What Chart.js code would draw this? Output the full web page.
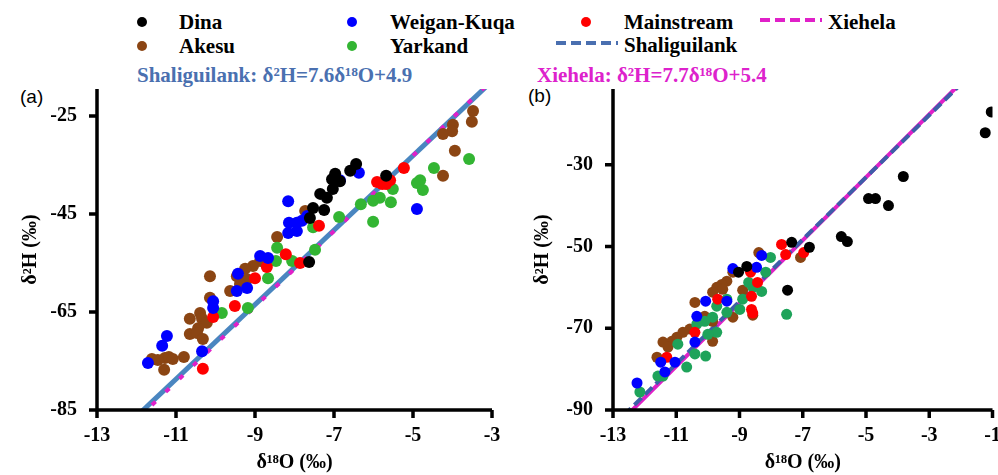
<!DOCTYPE html>
<html>
<head>
<meta charset="utf-8">
<script src="https://cdn.jsdelivr.net/npm/chart.js@4.4.0/dist/chart.umd.min.js"></script>
<style>
  body { margin: 0; background: #fff; width: 998px; height: 475px; overflow: hidden; position: relative;
         font-family: "Liberation Serif", "Times New Roman", serif; }
  .t { position: absolute; white-space: nowrap; font-weight: bold; font-size: 21px; line-height: 24px; color: #000; }
  .dot { position: absolute; width: 10px; height: 10px; border-radius: 50%; }
  .pl { position: absolute; font-family: "Liberation Sans", Arial, sans-serif; font-size: 19px; line-height: 22px; }
  canvas { position: absolute; top: 0; }
</style>
</head>
<body>
<!-- legend -->
<div class="dot" style="left:137px;top:17px;background:#000"></div>
<div class="t" style="left:179px;top:10px">Dina</div>
<div class="dot" style="left:347px;top:17px;background:#0000ff"></div>
<div class="t" style="left:390px;top:10px">Weigan-Kuqa</div>
<div class="dot" style="left:581px;top:17px;background:#ff0000"></div>
<div class="t" style="left:624px;top:10px">Mainstream</div>
<svg style="position:absolute;left:758px;top:15px" width="66" height="10"><line x1="2" y1="5" x2="64" y2="5" stroke="#e020c8" stroke-width="4" stroke-dasharray="10,5"/></svg>
<div class="t" style="left:828px;top:10px">Xiehela</div>
<div class="dot" style="left:137px;top:41px;background:#8b4513"></div>
<div class="t" style="left:179px;top:34px">Akesu</div>
<div class="dot" style="left:347px;top:41px;background:#33b533"></div>
<div class="t" style="left:390px;top:34px">Yarkand</div>
<svg style="position:absolute;left:554px;top:38px" width="66" height="10"><line x1="2" y1="5" x2="64" y2="5" stroke="#4a6fb0" stroke-width="4" stroke-dasharray="10,5"/></svg>
<div class="t" style="left:624px;top:33px">Shaliguilank</div>
<div class="t" style="left:137px;top:63px;color:#4a70b0">Shaliguilank: δ²H=7.6δ¹⁸O+4.9</div>
<div class="t" style="left:537px;top:63px;color:#dd22cc">Xiehela: δ²H=7.7δ¹⁸O+5.4</div>
<div class="pl" style="left:20px;top:86px">(a)</div>
<div class="pl" style="left:528px;top:85px">(b)</div>

<canvas id="chartA" width="510" height="475" style="left:0"></canvas>
<canvas id="chartB" width="488" height="475" style="left:510px"></canvas>

<script>
// panel (a) samples, [δ18O, δ2H]
const dinaA = [[-6.44,-34.8],[-6.59,-36.2],[-6.97,-36.8],[-7.05,-37.9],[-6.85,-38.3],[-7.03,-39.9],
  [-7.18,-41.7],[-7.35,-40.9],[-7.53,-43.8],[-7.25,-44.2],[-7.61,-45.8],[-5.68,-37.2],[-7.63,-54.8]];
const weiganA = [[-6.37,-36.6],[-6.85,-38.1],[-8.16,-42.4],[-8.14,-46.8],[-7.94,-46.8],[-7.81,-46.4],
  [-7.68,-45.4],[-8.16,-48.9],[-7.94,-48.5],[-4.90,-44.0],[-8.87,-53.6],[-8.67,-54.0],[-9.43,-57.2],
  [-9.20,-60.1],[-9.46,-60.7],[-10.06,-62.8],[-10.06,-64.2],[-11.23,-69.9],[-11.35,-71.9],[-10.34,-73.0],[-11.71,-75.4]];
const mainA = [[-5.23,-35.6],[-5.91,-38.5],[-5.78,-38.9],[-5.68,-38.9],[-5.58,-38.1],[-7.38,-47.4],
  [-8.22,-53.2],[-7.86,-55.0],[-8.70,-55.8],[-9.00,-58.1],[-9.51,-63.8],[-10.06,-66.0],[-10.32,-76.6]];
const yarkandA = [[-3.58,-33.8],[-4.47,-35.6],[-4.82,-38.1],[-4.90,-38.7],[-4.75,-40.1],[-5.51,-39.9],
  [-5.56,-42.6],[-5.84,-41.7],[-6.01,-42.3],[-6.32,-43.0],[-6.01,-46.6],[-6.87,-45.6],[-7.53,-47.7],
  [-7.48,-52.3],[-8.06,-54.6],[-8.44,-51.9],[-8.47,-54.6],[-8.67,-58.1],[-9.18,-64.2],[-9.84,-65.2]];
const akesuA = [[-3.48,-24.0],[-3.51,-26.2],[-3.99,-26.8],[-4.01,-28.1],[-4.24,-28.7],[-3.94,-32.1],
  [-4.24,-37.2],[-7.73,-44.4],[-8.44,-49.7],[-8.87,-54.6],[-9.05,-55.6],[-9.25,-56.2],[-9.46,-57.7],
  [-10.14,-57.7],[-9.20,-58.3],[-9.38,-59.3],[-9.63,-60.7],[-10.14,-62.1],[-10.39,-65.2],[-10.65,-66.4],
  [-10.34,-66.4],[-10.22,-67.2],[-10.44,-68.3],[-10.65,-69.5],[-10.47,-69.3],[-10.32,-70.5],[-11.61,-74.6],
  [-11.46,-74.8],[-11.28,-74.4],[-11.18,-74.2],[-11.08,-74.6],[-10.80,-74.2],[-11.30,-76.8]];

// panel (b) samples
const dinaB = [[-1.04,-17.1],[-1.23,-22.2],[-3.82,-32.9],[-4.92,-38.3],[-4.70,-38.3],[-4.29,-40.0],
  [-5.78,-47.6],[-5.59,-48.8],[-7.35,-49.0],[-6.79,-50.2],[-8.77,-54.9],[-9.03,-56.3],[-7.48,-60.7]];
const weiganB = [[-8.30,-52.2],[-9.21,-55.4],[-8.46,-55.1],[-10.07,-63.4],[-9.40,-63.4],[-10.35,-67.1],
  [-10.41,-73.4],[-11.49,-78.3],[-11.04,-78.3],[-11.36,-80.7],[-12.24,-83.4]];
const mainB = [[-7.67,-49.5],[-7.54,-52.0],[-6.97,-51.5],[-8.65,-56.3],[-8.43,-58.8],[-9.69,-62.9],
  [-8.62,-62.2],[-8.62,-65.4],[-8.58,-66.3],[-10.41,-71.0],[-11.30,-77.1]];
const yarkandB = [[-8.02,-52.7],[-8.17,-56.3],[-8.71,-58.8],[-8.58,-60.0],[-8.30,-61.0],[-9.40,-62.9],
  [-8.90,-62.9],[-8.99,-65.4],[-9.72,-64.6],[-9.40,-66.1],[-9.85,-67.3],[-10.10,-68.3],[-10.35,-69.0],
  [-9.72,-71.0],[-10.00,-71.5],[-10.95,-73.9],[-10.41,-76.3],[-10.07,-76.8],[-10.67,-79.5],[-11.42,-81.7],
  [-11.58,-81.7],[-12.15,-85.6],[-7.51,-66.6]];
const akesuB = [[-8.39,-51.5],[-7.07,-52.7],[-9.21,-56.3],[-9.40,-58.5],[-9.56,-59.3],[-9.72,-60.0],
  [-9.53,-60.5],[-9.85,-61.2],[-8.90,-60.7],[-10.41,-63.7],[-10.10,-67.1],[-9.21,-67.3],[-9.85,-68.3],
  [-10.57,-70.2],[-10.79,-71.0],[-10.98,-72.2],[-11.14,-73.2],[-11.42,-73.4],[-11.26,-74.6],[-11.61,-77.1],
  [-9.85,-73.2],[-8.58,-66.8]];

// local meteoric water lines: slope, intercept
const shaliLine = [7.6, 4.9];
const xieLine = [7.7, 5.4];

const xTicksA = [-13, -11, -9, -7, -5, -3];
const yTicksA = [-85, -65, -45, -25];
const xTicksB = [-13, -11, -9, -7, -5, -3, -1];
const yTicksB = [-90, -70, -50, -30];

const serif = '"Liberation Serif", "Times New Roman", serif';
const pts = arr => arr.map(p => ({ x: p[0], y: p[1] }));
const eqLine = (c, x0, x1) => [{ x: x0, y: c[0] * x0 + c[1] }, { x: x1, y: c[0] * x1 + c[1] }];

// heavy black axis lines and outward ticks, like the original figure
const axisInk = {
  id: 'axisInk',
  afterDraw(chart) {
    const { ctx, chartArea: a, scales: { x, y } } = chart;
    ctx.save();
    ctx.strokeStyle = '#000';
    ctx.lineWidth = 3.5;
    ctx.beginPath();
    ctx.moveTo(a.left, a.top);
    ctx.lineTo(a.left, a.bottom);
    ctx.lineTo(a.right, a.bottom);
    x.ticks.forEach(t => {
      const px = x.getPixelForValue(t.value);
      ctx.moveTo(px, a.bottom);
      ctx.lineTo(px, a.bottom + 8);
    });
    y.ticks.forEach(t => {
      const py = y.getPixelForValue(t.value);
      ctx.moveTo(a.left, py);
      ctx.lineTo(a.left - 8, py);
    });
    ctx.stroke();
    ctx.restore();
  }
};

function scatterSet(data, color, r) {
  return { data: pts(data), backgroundColor: color, borderWidth: 0, pointRadius: r, pointHoverRadius: r };
}

function lineSet(c, x0, x1, color, width, dash) {
  return { data: eqLine(c, x0, x1), showLine: true, borderColor: color, borderWidth: width,
           borderDash: dash, pointRadius: 0, clip: 0, fill: false };
}

function makeScale(min, max, tickVals, title, size, titlePad, tickPad) {
  return {
    type: 'linear', min: min, max: max,
    afterBuildTicks: s => { s.ticks = tickVals.map(v => ({ value: v })); },
    afterFit: s => {
      if (s.isHorizontal()) s.height = size; else s.width = size;
      s.paddingLeft = 0; s.paddingRight = 0; s.paddingTop = 0; s.paddingBottom = 0;
    },
    border: { display: false },
    grid: { drawOnChartArea: false, color: '#fff', tickLength: 7 },
    ticks: { color: '#000', padding: tickPad, font: { family: serif, size: 20, weight: 'bold' },
             callback: v => String(v) },
    title: { display: true, text: title, color: '#000', padding: { top: titlePad, bottom: 0 },
             font: { family: serif, size: 20, weight: 'bold' } }
  };
}

function makeChart(id, sets, xs, ys, padding) {
  return new Chart(document.getElementById(id), {
    type: 'scatter',
    data: { datasets: sets },
    options: {
      responsive: false, animation: false, devicePixelRatio: 1,
      layout: { padding: padding },
      plugins: { legend: { display: false }, tooltip: { enabled: false } },
      scales: { x: xs, y: ys }
    },
    plugins: [axisInk]
  });
}

makeChart('chartA', [
  scatterSet(dinaA, '#000000', 6),
  scatterSet(weiganA, '#0000ff', 6),
  scatterSet(mainA, '#ff0000', 6),
  scatterSet(yarkandA, '#33b533', 6),
  scatterSet(akesuA, '#8b4513', 6),
  lineSet(xieLine, -13, -3, '#e020c8', 4, [5, 14]),
  lineSet(shaliLine, -13, -3, '#4a86c0', 5, [])
],
  makeScale(-13, -3, xTicksA, 'δ¹⁸O (‰)', 65, -3, 7),
  makeScale(-85, -19.5, yTicksA, 'δ²H (‰)', 97, 19, 13),
  { left: 0, top: 89, right: 18, bottom: 0 });

makeChart('chartB', [
  scatterSet(dinaB, '#000000', 5.5),
  scatterSet(weiganB, '#0000ff', 5.5),
  scatterSet(mainB, '#ff0000', 5.5),
  scatterSet(yarkandB, '#1ea35a', 5.5),
  scatterSet(akesuB, '#8b4513', 5.5),
  lineSet(shaliLine, -13, -1, '#3d5ea8', 4, [10, 5]),
  lineSet(xieLine, -13, -1, '#e020c8', 4, [])
],
  makeScale(-13, -1, xTicksB, 'δ¹⁸O (‰)', 65, -3, 7),
  makeScale(-90, -11.5, yTicksB, 'δ²H (‰)', 103, 21, 13),
  { left: 0, top: 89, right: 4.6, bottom: 0 });
</script>
</body>
</html>
